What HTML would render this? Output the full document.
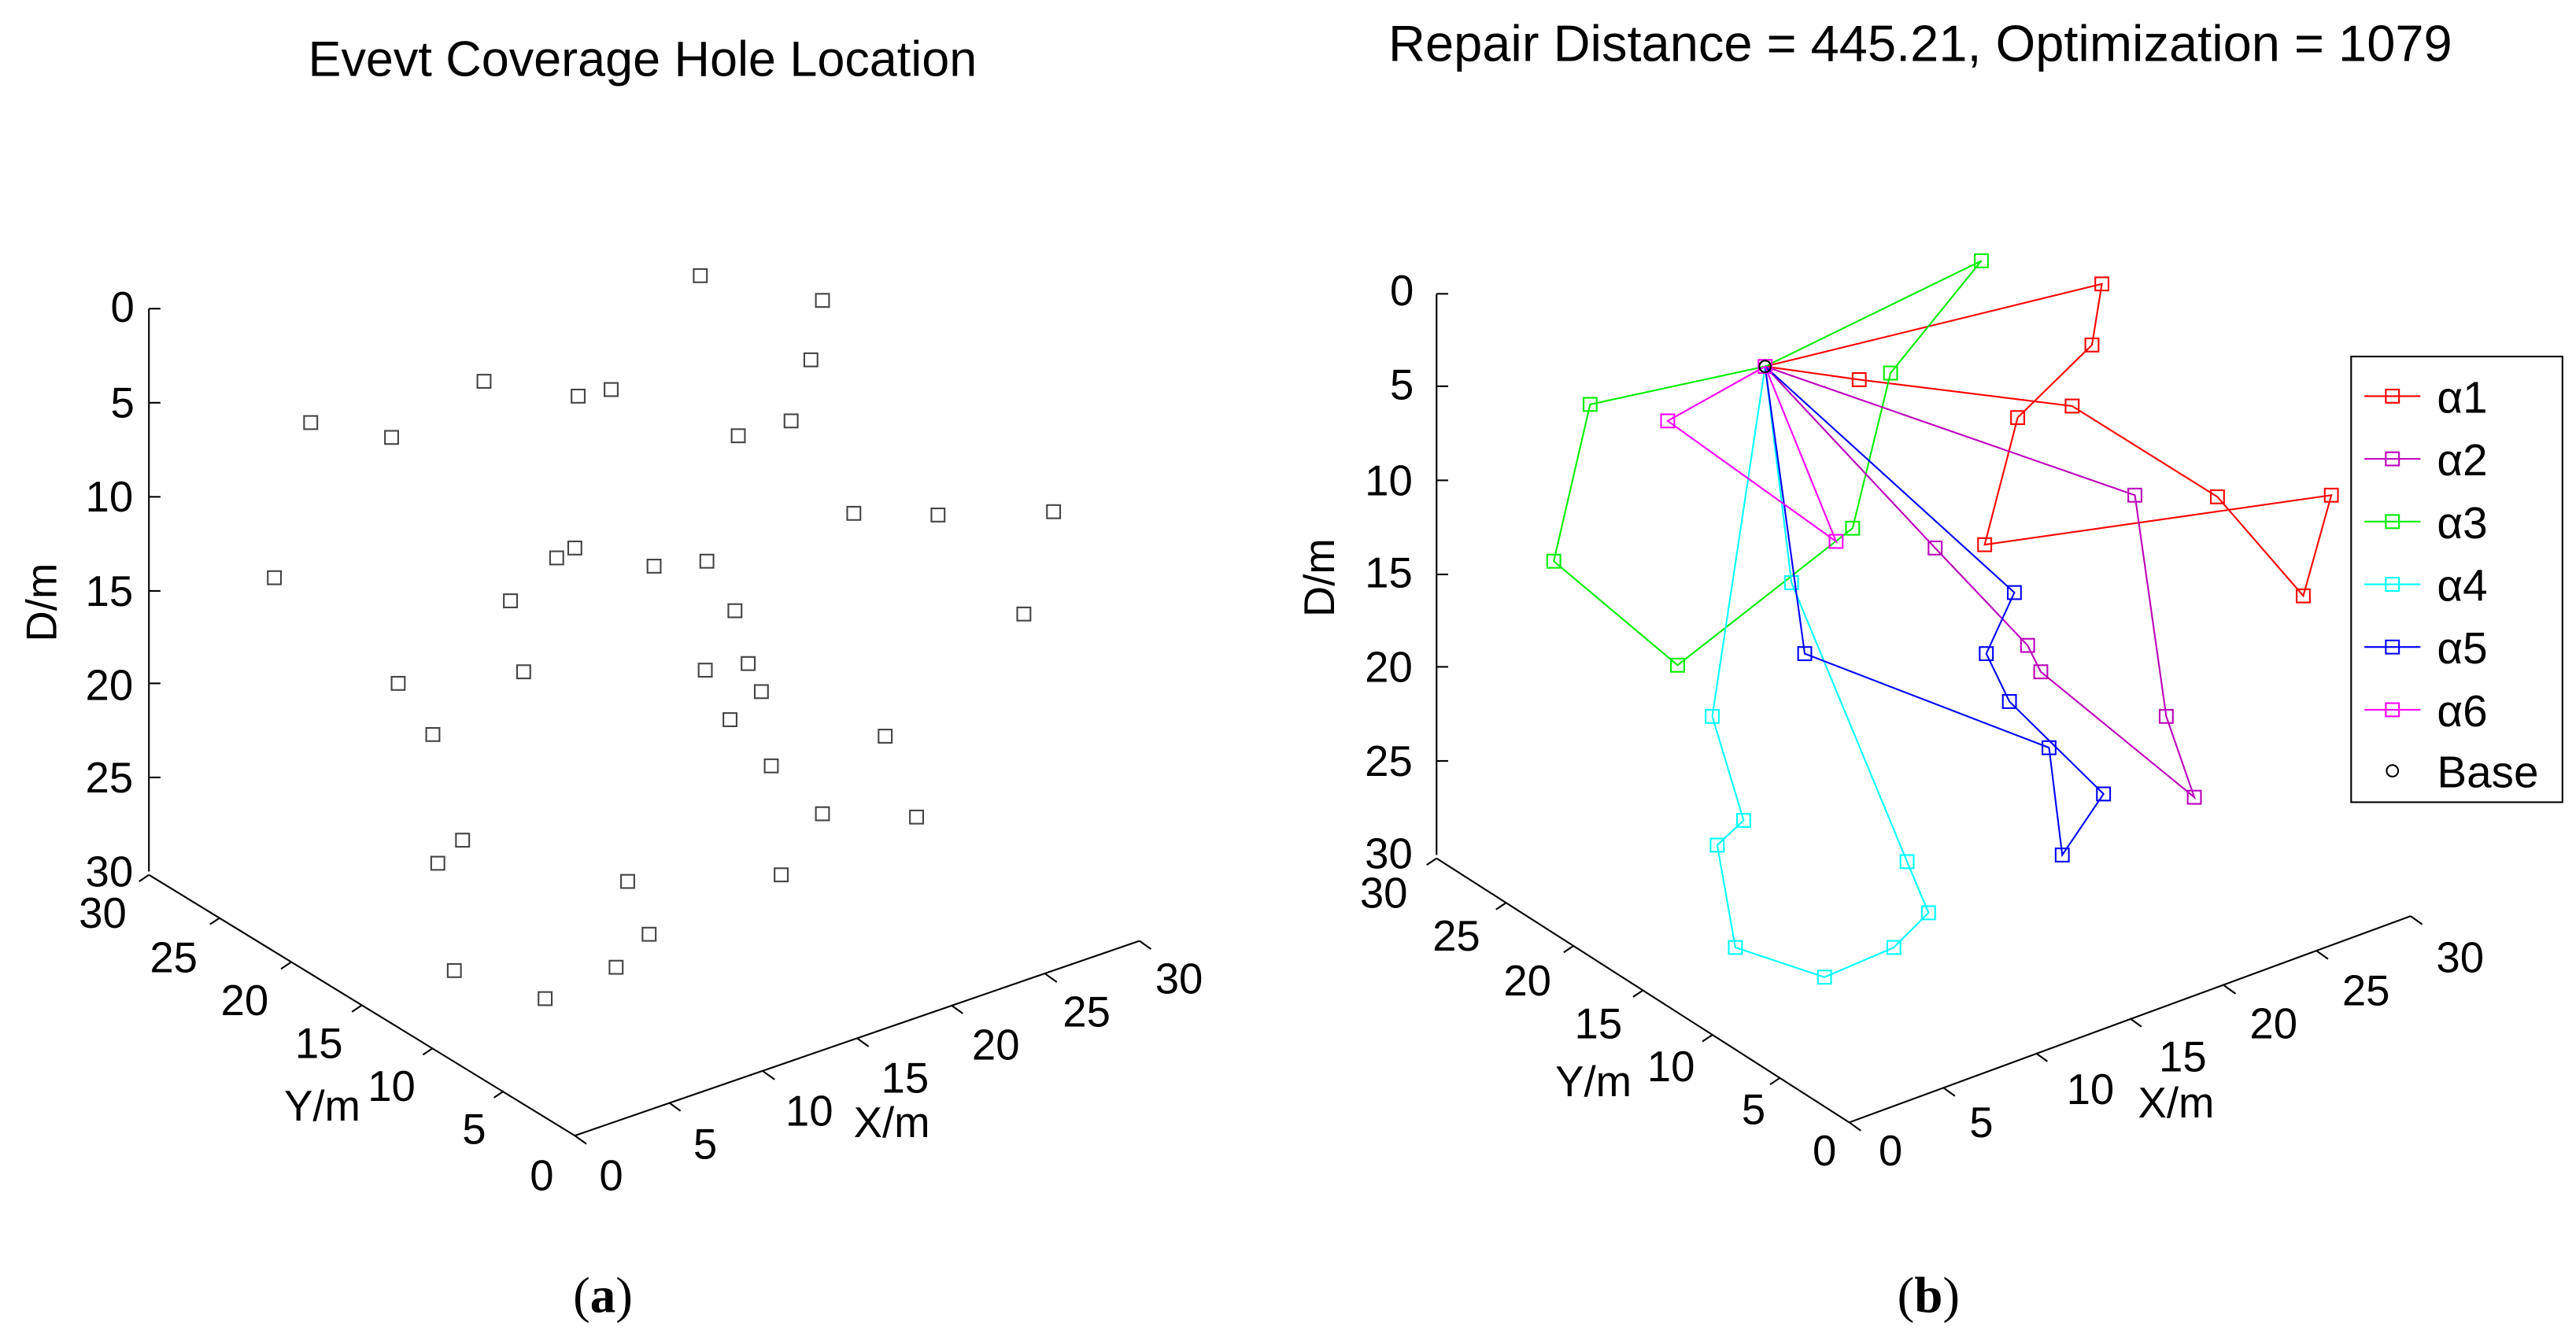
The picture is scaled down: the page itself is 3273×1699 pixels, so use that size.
<!DOCTYPE html>
<html><head><meta charset="utf-8"><style>
html,body{margin:0;padding:0;background:#fff;}
svg{display:block;}
text{font-family:"Liberation Sans",Arial,sans-serif;fill:#000;}
</style></head><body>
<svg width="3273" height="1699" viewBox="0 0 1560 810" xmlns="http://www.w3.org/2000/svg">
<rect width="1560" height="810" fill="#fff"/>
<text x="389" y="46" font-size="30" text-anchor="middle">Evevt Coverage Hole Location</text>
<text x="1163" y="37" font-size="31" text-anchor="middle">Repair Distance = 445.21, Optimization = 1079</text>

<g stroke="#000" stroke-width="1" fill="none">
<line x1="90" y1="187" x2="90" y2="528"/>
<line x1="90" y1="530" x2="348" y2="688"/>
<line x1="348" y1="688" x2="690" y2="570"/>
<line x1="90" y1="187" x2="97" y2="187"/><line x1="90" y1="244" x2="97" y2="244"/><line x1="90" y1="301" x2="97" y2="301"/><line x1="90" y1="358" x2="97" y2="358"/><line x1="90" y1="414" x2="97" y2="414"/><line x1="90" y1="471" x2="97" y2="471"/>
<line x1="348" y1="688" x2="355" y2="693"/><line x1="405" y1="668" x2="412" y2="673"/><line x1="462" y1="649" x2="469" y2="654"/><line x1="519" y1="629" x2="526" y2="634"/><line x1="576" y1="609" x2="583" y2="614"/><line x1="633" y1="590" x2="640" y2="595"/><line x1="690" y1="570" x2="697" y2="575"/>
<line x1="90" y1="530" x2="84" y2="534"/><line x1="133" y1="556" x2="127" y2="560"/><line x1="176" y1="583" x2="170" y2="587"/><line x1="219" y1="609" x2="213" y2="613"/><line x1="262" y1="635" x2="256" y2="639"/><line x1="305" y1="661" x2="299" y2="665"/>
</g>
<g font-size="26" text-anchor="middle">
<text x="74" y="195">0</text><text x="74" y="253">5</text><text x="66" y="310">10</text><text x="66" y="367">15</text><text x="66" y="424">20</text><text x="66" y="480">25</text><text x="66" y="537">30</text>
<text x="62" y="562">30</text><text x="105" y="589">25</text><text x="148" y="615">20</text><text x="193" y="641">15</text><text x="237" y="667">10</text><text x="287" y="693">5</text><text x="328" y="721">0</text>
<text x="370" y="721">0</text><text x="427" y="702">5</text><text x="490" y="682">10</text><text x="548" y="662">15</text><text x="603" y="642">20</text><text x="658" y="622">25</text><text x="714" y="602">30</text>
<text x="195" y="679">Y/m</text><text x="540" y="689">X/m</text>
<text transform="translate(34,365) rotate(-90)">D/m</text>
</g>
<g fill="none" stroke="#444" stroke-width="1">
<rect x="420" y="163" width="8" height="8"/><rect x="494" y="178" width="8" height="8"/><rect x="289" y="227" width="8" height="8"/><rect x="346" y="236" width="8" height="8"/><rect x="366" y="232" width="8" height="8"/><rect x="487" y="214" width="8" height="8"/><rect x="184" y="252" width="8" height="8"/><rect x="233" y="261" width="8" height="8"/><rect x="443" y="260" width="8" height="8"/><rect x="475" y="251" width="8" height="8"/><rect x="513" y="307" width="8" height="8"/><rect x="564" y="308" width="8" height="8"/><rect x="634" y="306" width="8" height="8"/><rect x="162" y="346" width="8" height="8"/><rect x="344" y="328" width="8" height="8"/><rect x="333" y="334" width="8" height="8"/><rect x="392" y="339" width="8" height="8"/><rect x="424" y="336" width="8" height="8"/><rect x="305" y="360" width="8" height="8"/><rect x="441" y="366" width="8" height="8"/><rect x="616" y="368" width="8" height="8"/><rect x="313" y="403" width="8" height="8"/><rect x="423" y="402" width="8" height="8"/><rect x="449" y="398" width="8" height="8"/><rect x="457" y="415" width="8" height="8"/><rect x="237" y="410" width="8" height="8"/><rect x="438" y="432" width="8" height="8"/><rect x="258" y="441" width="8" height="8"/><rect x="532" y="442" width="8" height="8"/><rect x="463" y="460" width="8" height="8"/><rect x="494" y="489" width="8" height="8"/><rect x="551" y="491" width="8" height="8"/><rect x="276" y="505" width="8" height="8"/><rect x="261" y="519" width="8" height="8"/><rect x="469" y="526" width="8" height="8"/><rect x="376" y="530" width="8" height="8"/><rect x="389" y="562" width="8" height="8"/><rect x="271" y="584" width="8" height="8"/><rect x="369" y="582" width="8" height="8"/><rect x="326" y="601" width="8" height="8"/>
</g>

<g stroke="#000" stroke-width="1" fill="none">
<line x1="870" y1="178" x2="870" y2="518"/>
<line x1="870" y1="520" x2="1120" y2="680"/>
<line x1="1120" y1="680" x2="1460" y2="555"/>
<line x1="870" y1="178" x2="877" y2="178"/><line x1="870" y1="234" x2="877" y2="234"/><line x1="870" y1="291" x2="877" y2="291"/><line x1="870" y1="348" x2="877" y2="348"/><line x1="870" y1="404" x2="877" y2="404"/><line x1="870" y1="461" x2="877" y2="461"/>
<line x1="1120" y1="680" x2="1127" y2="685"/><line x1="1177" y1="659" x2="1184" y2="664"/><line x1="1233" y1="638" x2="1240" y2="643"/><line x1="1290" y1="617" x2="1297" y2="622"/><line x1="1347" y1="597" x2="1354" y2="602"/><line x1="1403" y1="576" x2="1410" y2="581"/><line x1="1460" y1="555" x2="1467" y2="560"/>
<line x1="870" y1="520" x2="864" y2="524"/><line x1="912" y1="547" x2="906" y2="551"/><line x1="953" y1="573" x2="947" y2="577"/><line x1="995" y1="600" x2="989" y2="604"/><line x1="1037" y1="627" x2="1031" y2="631"/><line x1="1078" y1="653" x2="1072" y2="657"/>
</g>
<g font-size="26" text-anchor="middle">
<text x="849" y="185">0</text><text x="849" y="242">5</text><text x="841" y="300">10</text><text x="841" y="356">15</text><text x="841" y="413">20</text><text x="841" y="470">25</text><text x="841" y="526">30</text>
<text x="838" y="550">30</text><text x="882" y="576">25</text><text x="925" y="603">20</text><text x="968" y="629">15</text><text x="1012" y="655">10</text><text x="1062" y="681">5</text><text x="1105" y="706">0</text>
<text x="1145" y="706">0</text><text x="1200" y="689">5</text><text x="1266" y="669">10</text><text x="1322" y="649">15</text><text x="1377" y="629">20</text><text x="1433" y="609">25</text><text x="1490" y="589">30</text>
<text x="965" y="664">Y/m</text><text x="1318" y="677">X/m</text>
<text transform="translate(808,350) rotate(-90)">D/m</text>
</g>

<defs>
<g id="m"><rect x="-4" y="-4" width="8" height="8" fill="none"/></g>
</defs>
<g fill="none" stroke-width="1">
<g stroke="#f00">
<polyline points="1069,222 1126,230 1255,246 1343,301 1395,361 1412,300 1202,330 1222,253 1267,209 1273,172 1069,222"/>
<use href="#m" x="1126" y="230"/><use href="#m" x="1255" y="246"/><use href="#m" x="1343" y="301"/><use href="#m" x="1395" y="361"/><use href="#m" x="1412" y="300"/><use href="#m" x="1202" y="330"/><use href="#m" x="1222" y="253"/><use href="#m" x="1267" y="209"/><use href="#m" x="1273" y="172"/>
</g>
<g stroke="#0e0">
<polyline points="1069,222 1200,158 1145,226 1122,320 1016,403 941,340 963,245 1069,222"/>
<use href="#m" x="1200" y="158"/><use href="#m" x="1145" y="226"/><use href="#m" x="1122" y="320"/><use href="#m" x="1016" y="403"/><use href="#m" x="941" y="340"/><use href="#m" x="963" y="245"/>
</g>
<g stroke="#b0b">
<polyline points="1069,222 1293,300 1312,434 1329,483 1236,407 1228,391 1172,332 1069,222"/>
<use href="#m" x="1293" y="300"/><use href="#m" x="1312" y="434"/><use href="#m" x="1329" y="483"/><use href="#m" x="1236" y="407"/><use href="#m" x="1228" y="391"/><use href="#m" x="1172" y="332"/>
</g>
<g stroke="#0ff">
<polyline points="1069,222 1085,353 1155,522 1168,553 1147,574 1105,592 1051,574 1040,512 1056,497 1037,434 1069,222"/>
<use href="#m" x="1085" y="353"/><use href="#m" x="1155" y="522"/><use href="#m" x="1168" y="553"/><use href="#m" x="1147" y="574"/><use href="#m" x="1105" y="592"/><use href="#m" x="1051" y="574"/><use href="#m" x="1040" y="512"/><use href="#m" x="1056" y="497"/><use href="#m" x="1037" y="434"/>
</g>
<g stroke="#00f">
<polyline points="1069,222 1093,396 1241,453 1249,518 1274,481 1217,425 1203,396 1220,359 1069,222"/>
<use href="#m" x="1093" y="396"/><use href="#m" x="1241" y="453"/><use href="#m" x="1249" y="518"/><use href="#m" x="1274" y="481"/><use href="#m" x="1217" y="425"/><use href="#m" x="1203" y="396"/><use href="#m" x="1220" y="359"/>
</g>
<g stroke="#f0f">
<polyline points="1069,222 1010,255 1112,328 1069,222"/>
<use href="#m" x="1010" y="255"/><use href="#m" x="1112" y="328"/><use href="#m" x="1069" y="222"/>
</g>
<circle cx="1069" cy="222" r="3.5" stroke="#000"/>
</g>

<rect x="1424" y="216" width="128" height="270" fill="#fff" stroke="#000" stroke-width="1"/>
<g fill="none" stroke-width="1">
<line x1="1432" y1="240" x2="1466" y2="240" stroke="#f00"/><use href="#m" x="1449" y="240" stroke="#f00"/>
<line x1="1432" y1="278" x2="1466" y2="278" stroke="#b0b"/><use href="#m" x="1449" y="278" stroke="#b0b"/>
<line x1="1432" y1="316" x2="1466" y2="316" stroke="#0e0"/><use href="#m" x="1449" y="316" stroke="#0e0"/>
<line x1="1432" y1="354" x2="1466" y2="354" stroke="#0ff"/><use href="#m" x="1449" y="354" stroke="#0ff"/>
<line x1="1432" y1="392" x2="1466" y2="392" stroke="#00f"/><use href="#m" x="1449" y="392" stroke="#00f"/>
<line x1="1432" y1="430" x2="1466" y2="430" stroke="#f0f"/><use href="#m" x="1449" y="430" stroke="#f0f"/>
<circle cx="1449" cy="467" r="3.5" stroke="#000"/>
</g>
<g font-size="27">
<text x="1476" y="250">α1</text><text x="1476" y="288">α2</text><text x="1476" y="326">α3</text><text x="1476" y="364">α4</text><text x="1476" y="402">α5</text><text x="1476" y="440">α6</text><text x="1476" y="477">Base</text>
</g>

<g font-size="31" text-anchor="middle">
<text x="365" y="795" style="font-family:'Liberation Serif',serif">(<tspan font-weight="bold">a</tspan>)</text>
<text x="1168" y="795" style="font-family:'Liberation Serif',serif">(<tspan font-weight="bold">b</tspan>)</text>
</g>
</svg>
</body></html>
